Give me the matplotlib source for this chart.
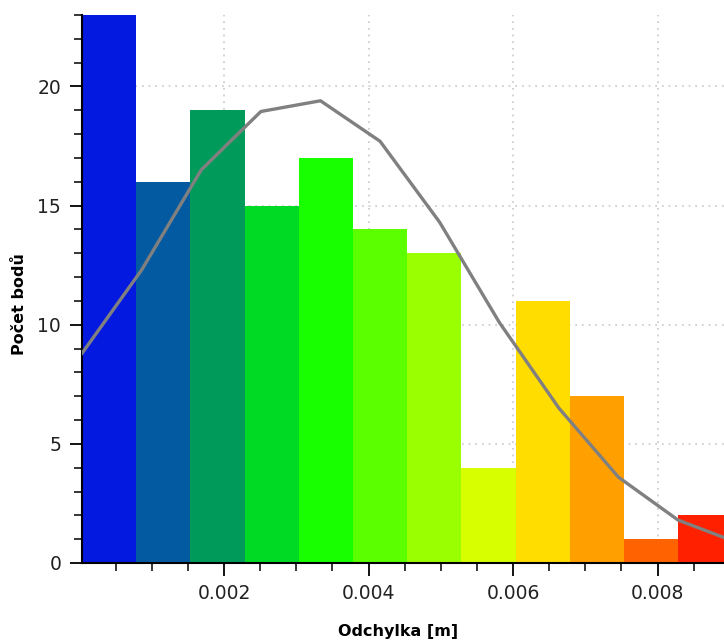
import matplotlib.pyplot as plt
from matplotlib.ticker import MultipleLocator

# histogram bins (left edges, metres) and counts
bin_left = [0.0000346, 0.000785, 0.001535, 0.002285, 0.003035, 0.003785,
            0.004535, 0.005285, 0.006035, 0.006785, 0.007535, 0.008285]
bin_width = 0.00075
counts = [24, 16, 19, 15, 17, 14, 13, 4, 11, 7, 1, 2]
bar_colors = ["#0419E0", "#035AA0", "#009B5B", "#00DA24", "#18FF00", "#5BFF00",
              "#9AFF00", "#D8FF00", "#FFDD00", "#FFA000", "#FF6200", "#FF2000"]

# fitted curve
curve_x = [0.0000346, 0.00086, 0.001685, 0.00251, 0.003335, 0.00416,
           0.004985, 0.00581, 0.006635, 0.00746, 0.008285, 0.00911]
curve_y = [8.8, 12.3, 16.5, 18.95, 19.4, 17.7, 14.3, 10.1, 6.5, 3.6, 1.8, 0.85]

fig = plt.figure(figsize=(7.24, 6.43), dpi=100)
ax = fig.add_axes([82 / 724, 1 - 563 / 643, 1 - 82 / 724, 548 / 643])

ax.bar(bin_left, counts, width=bin_width, align="edge", color=bar_colors,
       linewidth=0, zorder=2)
ax.plot(curve_x, curve_y, color="#808080", linewidth=2.4, zorder=3)

ax.set_xlim(0.0000346, 0.00892)
ax.set_ylim(0, 23)

ax.xaxis.set_major_locator(MultipleLocator(0.002))
ax.xaxis.set_minor_locator(MultipleLocator(0.0005))
ax.yaxis.set_major_locator(MultipleLocator(5))
ax.yaxis.set_minor_locator(MultipleLocator(1))
ax.xaxis.set_major_formatter(plt.FuncFormatter(lambda v, p: f"{v:.3f}"))

ax.grid(True, which="major", linestyle=(0, (1, 3)), color="#c8c8c8",
        linewidth=1.2, zorder=0)
ax.set_axisbelow(True)

for s in ["top", "right"]:
    ax.spines[s].set_visible(False)
for s in ["left", "bottom"]:
    ax.spines[s].set_linewidth(1.5)
    ax.spines[s].set_color("black")

ax.tick_params(which="major", length=9, width=1.3, labelsize=13.5,
               labelcolor="#222222", pad=6)
ax.tick_params(which="minor", length=6, width=1.1)

ax.set_xlabel("Odchylka [m]", fontsize=11.5, fontweight="bold")
ax.set_ylabel("Počet bodů", fontsize=11.5, fontweight="bold")
ax.xaxis.set_label_coords((398 - 82) / 642, -(624 - 563) / 548)
ax.yaxis.set_label_coords((12 - 82) / 642, (563 - 304) / 548)
ax.yaxis.label.set_verticalalignment("top")

fig.savefig("out.png", dpi=100)
